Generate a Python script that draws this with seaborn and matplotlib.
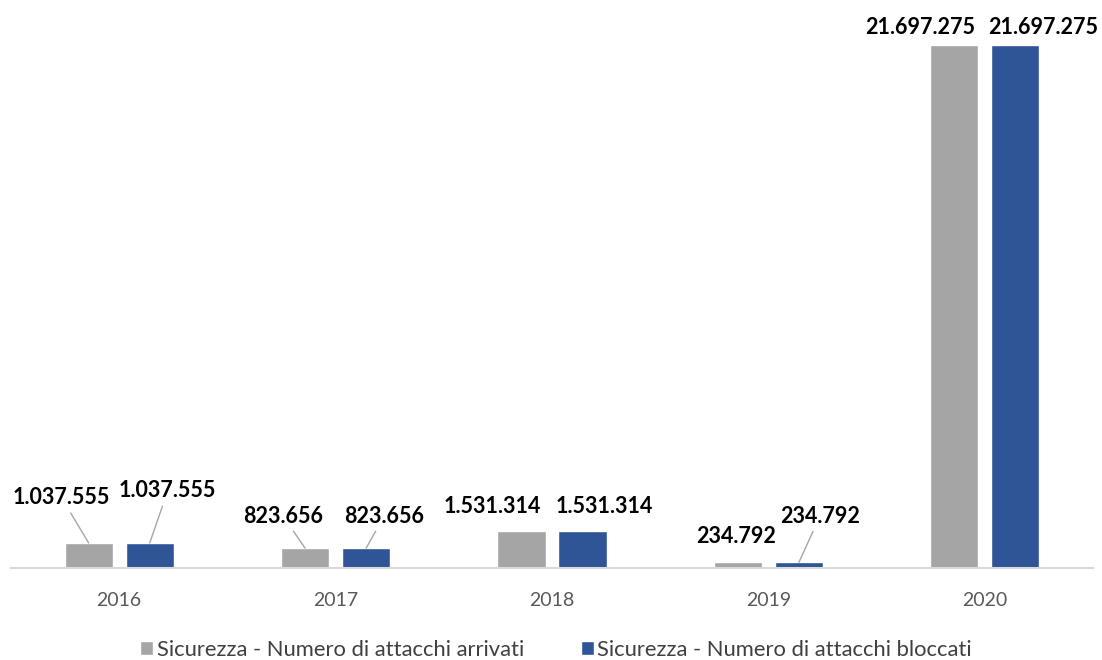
import matplotlib
matplotlib.use("Agg")
import matplotlib.pyplot as plt
import seaborn as sns
import pandas as pd

years = ["2016", "2017", "2018", "2019", "2020"]
arrivati = [1037555, 823656, 1531314, 234792, 21697275]
bloccati = [1037555, 823656, 1531314, 234792, 21697275]
series_names = ["Sicurezza - Numero di attacchi arrivati",
                "Sicurezza - Numero di attacchi bloccati"]
colors = ["#A5A5A5", "#2F5597"]

df = pd.DataFrame({
    "Anno": years * 2,
    "Valore": arrivati + bloccati,
    "Serie": [series_names[0]] * len(years) + [series_names[1]] * len(years),
})

sns.set_theme(style="white")
plt.rcParams["font.family"] = ["Lato", "DejaVu Sans"]

W, H = 1102, 660
fig = plt.figure(figsize=(W / 100, H / 100), dpi=100)
ax = fig.add_axes([11 / W, 92 / H, 1082 / W, 568 / H])

sns.barplot(data=df, x="Anno", y="Valore", hue="Serie", palette=colors,
            width=0.564, gap=0.21, ax=ax, legend=True, saturation=1)

ax.set_xlim(-0.5, len(years) - 0.5)
ax.set_ylim(0, max(arrivati + bloccati) * 568 / 523)
ax.set_xlabel("")
ax.set_ylabel("")
ax.set_yticks([])
for s in ["left", "right", "top"]:
    ax.spines[s].set_visible(False)
ax.spines["bottom"].set_color("#D9D9D9")
ax.spines["bottom"].set_linewidth(1.5)
ax.tick_params(axis="x", length=0, pad=17, labelsize=14, labelcolor="#595959")

def fmt(v):
    return f"{v:,}".replace(",", ".")

# label offsets in pixels (dx, dy) from bar top-center, and whether leader line shown
offsets = {
    0: [(-27, 45, True), (18, 52, True)],
    1: [(-22, 32, True), (18, 32, True)],
    2: [(-29, 25, False), (22, 25, False)],
    3: [(-2, 26, False), (21, 46, True)],
    4: [(-34, 18, False), (28, 18, False)],
}

series_vals = [arrivati, bloccati]
for si, cont in enumerate(ax.containers):
    for ci, rect in enumerate(cont):
        x = rect.get_x() + rect.get_width() / 2
        y = rect.get_height()
        dx, dy, line = offsets[ci][si]
        kw = dict(xy=(x, y), xytext=(dx, dy), textcoords="offset pixels",
                  ha="center", va="center", fontsize=15.5, fontweight="bold",
                  color="#000000", annotation_clip=False)
        if line:
            kw["arrowprops"] = dict(arrowstyle="-", color="#A6A6A6", lw=1,
                                    shrinkA=1, shrinkB=0)
        ax.annotate(fmt(series_vals[si][ci]), **kw)

leg = ax.get_legend()
handles = leg.legend_handles
leg.remove()
fig.legend(handles, series_names, loc="center", bbox_to_anchor=(556 / W, 10 / H),
           ncol=2, frameon=False, fontsize=15.8, labelcolor="#404040",
           handlelength=0.6, handleheight=0.6, handletextpad=0.15,
           columnspacing=2.6, borderpad=0, borderaxespad=0)

fig.savefig("out.png", dpi=100)
